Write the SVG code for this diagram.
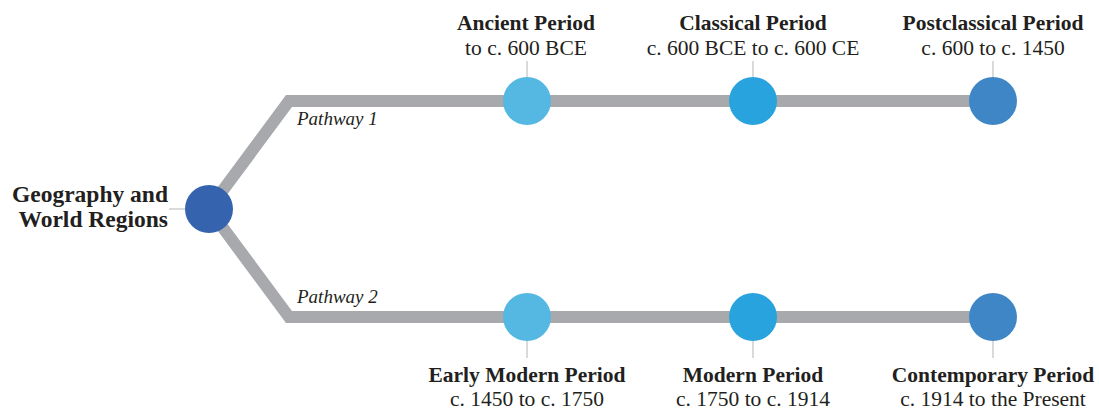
<svg xmlns="http://www.w3.org/2000/svg" width="1099" height="410" viewBox="0 0 1099 410">
<style>
.t{font-family:"Liberation Serif","DejaVu Serif",serif;font-weight:bold;font-size:21.5px;fill:#231f20;text-anchor:middle}
.r{font-family:"Liberation Serif","DejaVu Serif",serif;font-weight:bold;font-size:23.5px;fill:#231f20;text-anchor:end}
.s{font-family:"Liberation Serif","DejaVu Serif",serif;font-size:21.5px;fill:#231f20;text-anchor:middle}
.p{font-family:"Liberation Serif","DejaVu Serif",serif;font-style:italic;font-size:19px;fill:#231f20}
.tick{stroke:#b3b5b8;stroke-width:1}
.track{fill:none;stroke:#a7a9ac;stroke-width:12;stroke-linejoin:miter}
</style>
<rect width="1099" height="410" fill="#fff"/>
<g id="connectors">
<path class="track" d="M209,209 L289,101 L995,101"/>
<path class="track" d="M209,209 L289,317 L995,317"/>
<line class="tick" x1="169" y1="209" x2="186" y2="209"/>
<line class="tick" x1="527" y1="61" x2="527" y2="78"/>
<line class="tick" x1="753" y1="61" x2="753" y2="78"/>
<line class="tick" x1="993" y1="61" x2="993" y2="78"/>
<line class="tick" x1="527" y1="340" x2="527" y2="358"/>
<line class="tick" x1="753" y1="340" x2="753" y2="358"/>
<line class="tick" x1="993" y1="340" x2="993" y2="358"/>
<text class="p" x="297" y="125">Pathway 1</text>
<text class="p" x="297" y="303">Pathway 2</text>
</g>
<g id="root">
<circle cx="209" cy="209" r="24" fill="#3563ae"/>
<text class="r" x="168" y="202">Geography and</text>
<text class="r" x="168" y="227">World Regions</text>
</g>
<g id="ancient">
<circle cx="527" cy="101" r="24" fill="#55b8e2"/>
<text class="t" x="526" y="30">Ancient Period</text>
<text class="s" x="526" y="55">to c. 600 BCE</text>
</g>
<g id="classical">
<circle cx="753" cy="101" r="24" fill="#29a3dd"/>
<text class="t" x="753" y="30">Classical Period</text>
<text class="s" x="753" y="55">c. 600 BCE to c. 600 CE</text>
</g>
<g id="postclassical">
<circle cx="993" cy="101" r="24" fill="#3e86c6"/>
<text class="t" x="993" y="30">Postclassical Period</text>
<text class="s" x="993" y="55">c. 600 to c. 1450</text>
</g>
<g id="earlymodern">
<circle cx="527" cy="317" r="24" fill="#55b8e2"/>
<text class="t" x="527" y="382">Early Modern Period</text>
<text class="s" x="527" y="406">c. 1450 to c. 1750</text>
</g>
<g id="modern">
<circle cx="753" cy="317" r="24" fill="#29a3dd"/>
<text class="t" x="753" y="382">Modern Period</text>
<text class="s" x="753" y="406">c. 1750 to c. 1914</text>
</g>
<g id="contemporary">
<circle cx="993" cy="317" r="24" fill="#3e86c6"/>
<text class="t" x="993" y="382">Contemporary Period</text>
<text class="s" x="993" y="406">c. 1914 to the Present</text>
</g>
</svg>
